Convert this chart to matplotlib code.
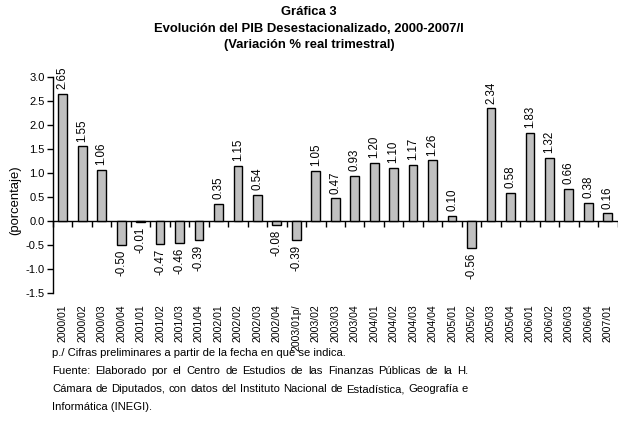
import matplotlib
matplotlib.use("Agg")
import matplotlib.pyplot as plt
import numpy as np

plt.rcParams['font.family'] = ['Liberation Sans', 'DejaVu Sans']
plt.rcParams['axes.unicode_minus'] = False

categories = ["2000/01", "2000/02", "2000/03", "2000/04",
              "2001/01", "2001/02", "2001/03", "2001/04",
              "2002/01", "2002/02", "2002/03", "2002/04",
              "2003/01p/", "2003/02", "2003/03", "2003/04",
              "2004/01", "2004/02", "2004/03", "2004/04",
              "2005/01", "2005/02", "2005/03", "2005/04",
              "2006/01", "2006/02", "2006/03", "2006/04",
              "2007/01"]
values = [2.65, 1.55, 1.06, -0.50,
          -0.01, -0.47, -0.46, -0.39,
          0.35, 1.15, 0.54, -0.08,
          -0.39, 1.05, 0.47, 0.93,
          1.20, 1.10, 1.17, 1.26,
          0.10, -0.56, 2.34, 0.58,
          1.83, 1.32, 0.66, 0.38,
          0.16]
yticks = [-1.5, -1.0, -0.5, 0.0, 0.5, 1.0, 1.5, 2.0, 2.5, 3.0]

W, H = 618, 430
fig = plt.figure(figsize=(W / 100, H / 100), dpi=100)
left, right, top, bottom = 53, 617.5, 76.7, 293.3
ax = fig.add_axes([left / W, 1 - bottom / H, (right - left) / W, (bottom - top) / H])

x = np.arange(len(categories))
bars = ax.bar(x, values, width=0.45, color="#C0C0C0", edgecolor="black", linewidth=1.0, zorder=3)

ax.set_xlim(-0.5, len(categories) - 0.5)
ax.set_ylim(-1.5, 3.0)
ax.set_yticks(yticks)
ax.set_yticklabels([f"{v:.1f}" for v in yticks], fontsize=8)
ax.tick_params(axis='y', direction='out', length=4, width=1, pad=2)

ax.set_xticks(x)
ax.set_xticklabels(categories, rotation=90, fontsize=7.6, va='top', ha='center')
ax.tick_params(axis='x', length=0, pad=8)

for s in ['top', 'right', 'bottom']:
    ax.spines[s].set_visible(False)
ax.spines['left'].set_linewidth(1)

# zero axis with boundary ticks
sec = ax.secondary_xaxis(1.5 / 4.5)
sec.set_xticks(np.arange(len(categories) + 1) - 0.5)
sec.set_xticklabels([])
sec.tick_params(axis='x', direction='out', length=4, width=1)
sec.spines['bottom'].set_linewidth(1)

for xi, v in zip(x, values):
    if v >= 0:
        ax.annotate(f"{v:.2f}", (xi, v), xytext=(0, 3.5), textcoords='offset points',
                    rotation=90, ha='center', va='bottom', fontsize=8.3)
    else:
        ax.annotate(f"{v:.2f}", (xi, v), xytext=(0, -3.5), textcoords='offset points',
                    rotation=90, ha='center', va='top', fontsize=8.3)

fig.text(15 / W, 1 - 200 / H, "(porcentaje)", rotation=90, ha='center', va='center', fontsize=9.4)

fig.text(0.5, 1 - 12 / H, "Gráfica 3", ha='center', va='center', fontsize=9.4, fontweight='bold')
fig.text(0.5, 1 - 28.5 / H, "Evolución del PIB Desestacionalizado, 2000-2007/I", ha='center', va='center',
         fontsize=9.4, fontweight='bold')
fig.text(0.5, 1 - 45 / H, "(Variación % real trimestral)", ha='center', va='center', fontsize=9.4,
         fontweight='bold')

notes = ["p./ Cifras preliminares a partir de la fecha en que se indica.",
         "Fuente: Elaborado por el Centro de Estudios de las Finanzas Públicas de la H.",
         "Cámara de Diputados, con datos del Instituto Nacional de Estadística, Geografía e",
         "Informática (INEGI)."]
justify = [False, True, True, False]
note_fs = 8.15
x0, x1 = 52, 468
renderer = fig.canvas.get_renderer()
for i, (n, j) in enumerate(zip(notes, justify)):
    yfig = 1 - (353 + i * 18) / H
    if not j:
        fig.text(x0 / W, yfig, n, ha='left', va='center', fontsize=note_fs)
        continue
    words = n.split(" ")
    texts = [fig.text(0, yfig, w, ha='left', va='center', fontsize=note_fs) for w in words]
    widths = [t.get_window_extent(renderer).width for t in texts]
    gap = ((x1 - x0) - sum(widths)) / (len(words) - 1)
    pos = x0
    for t, wd in zip(texts, widths):
        t.set_x(pos / W)
        pos += wd + gap

fig.savefig("out.png", dpi=100)
